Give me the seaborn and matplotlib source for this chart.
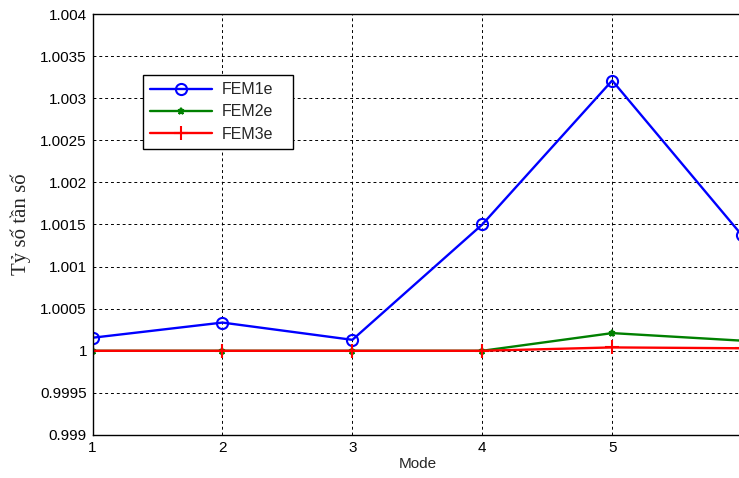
import numpy as np
import pandas as pd
import seaborn as sns
import matplotlib
matplotlib.use("Agg")
import matplotlib.pyplot as plt
from matplotlib.ticker import FuncFormatter

# values
modes = [1, 2, 3, 4, 5, 6]
fem1e = [1.000155, 1.000335, 1.000130, 1.001500, 1.003210, 1.001370]
fem2e = [1.000000, 1.000000, 1.000000, 1.000000, 1.000210, 1.000120]
fem3e = [1.000000, 1.000000, 1.000000, 1.000000, 1.000040, 1.000030]
series_names = ["FEM1e", "FEM2e", "FEM3e"]
x_ticks = [1, 2, 3, 4, 5]
y_ticks = [0.999, 0.9995, 1.0, 1.0005, 1.001, 1.0015, 1.002, 1.0025, 1.003, 1.0035, 1.004]

sns.set_style("white")
plt.rcParams['font.family'] = ['Liberation Sans', 'DejaVu Sans']

fig = plt.figure(figsize=(7.39, 4.78), dpi=100)
ax = fig.add_axes([0.1252, 0.09, 0.879, 0.8807])

# one line per series, style like the matlab plot
styles = [("blue", "o", 8, "none"), ("green", "*", 5, "green"), ("red", "+", 10, "red")]
for name, vals, (col, mk, ms, fc) in zip(series_names, [fem1e, fem2e, fem3e], styles):
    df = pd.DataFrame({"Mode": modes, "ratio": vals})
    sns.lineplot(data=df, x="Mode", y="ratio", ax=ax, color=col, marker=mk,
                 markersize=ms, markerfacecolor=fc, markeredgecolor=col,
                 markeredgewidth=1.5, linewidth=1.7, label=name)

ax.set_xlim(1, 6)
ax.set_ylim(0.999, 1.004)
ax.set_xticks(x_ticks)
ax.set_yticks(y_ticks)
ax.yaxis.set_major_formatter(FuncFormatter(lambda v, p: f"{v:g}"))
ax.tick_params(direction="in", length=4, width=1, labelsize=11, colors="black",
               top=False, right=False, pad=4)

ax.grid(True, color="black", linestyle=(0, (3, 3)), linewidth=0.7)
for s in ax.spines.values():
    s.set_color("black")
    s.set_linewidth(1.0)

ax.set_xlabel("Mode", fontsize=11, labelpad=2)
ax.set_ylabel("Tỷ số tần số", fontsize=15, family=["Liberation Serif", "DejaVu Serif"], labelpad=7)

# legend box stretched to the same width as the matlab one
leg = ax.legend(loc="upper left", bbox_to_anchor=(0.077, 0.655, 0.231, 0.2),
                mode="expand", borderaxespad=0,
                fontsize=11.5, frameon=True, fancybox=False, edgecolor="black",
                framealpha=1, handlelength=3.9, handletextpad=0.6,
                borderpad=0.45, labelspacing=0.45)
leg.get_frame().set_linewidth(1.0)

fig.savefig("out.png", dpi=100)
